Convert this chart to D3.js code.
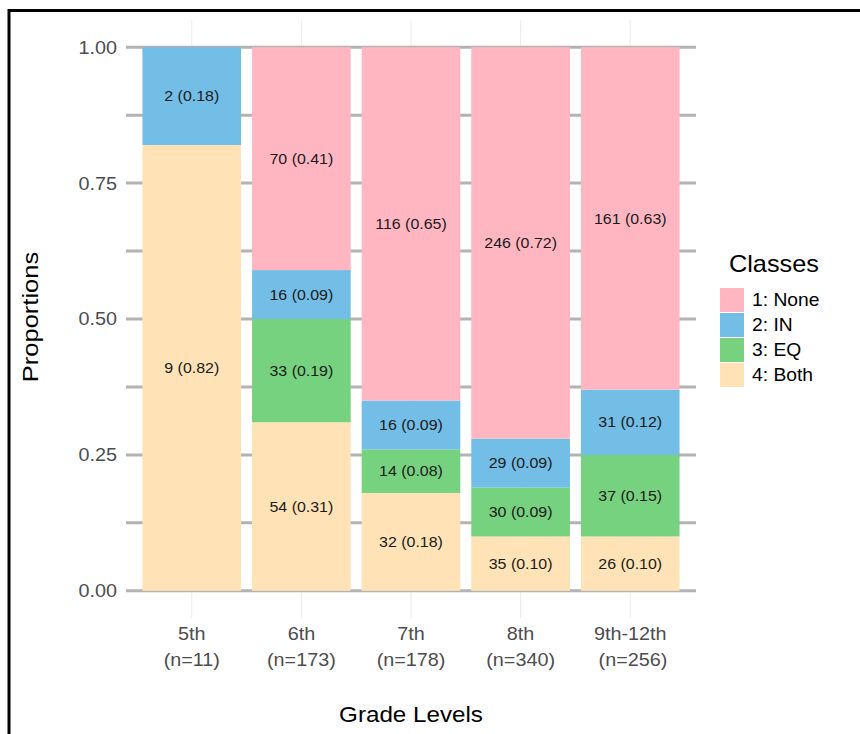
<!DOCTYPE html>
<html>
<head>
<meta charset="utf-8">
<script src="https://cdn.jsdelivr.net/npm/d3@7"></script>
<style>
  body { margin: 0; background: #fff; }
  svg { display: block; font-family: "Liberation Sans", Arial, sans-serif; }
</style>
</head>
<body>
<div id="chart"></div>
<script>
// data
const grades = ["5th", "6th", "7th", "8th", "9th-12th"];
const nLabels = ["(n=11)", "(n=173)", "(n=178)", "(n=340)", " (n=256)"];
const classes = ["1: None", "2: IN", "3: EQ", "4: Both"];
const noneCounts = [0, 70, 116, 246, 161];
const inCounts = [2, 16, 16, 29, 31];
const eqCounts = [0, 33, 14, 30, 37];
const bothCounts = [9, 54, 32, 35, 26];
const noneProps = [0, 0.41, 0.65, 0.72, 0.63];
const inProps = [0.18, 0.09, 0.09, 0.09, 0.12];
const eqProps = [0, 0.19, 0.08, 0.09, 0.15];
const bothProps = [0.82, 0.31, 0.18, 0.10, 0.10];
const yTicks = [0, 0.25, 0.5, 0.75, 1];
const yMinor = [0.125, 0.375, 0.625, 0.875];

const colors = ["#ffb6c1", "#72bee6", "#77d27f", "#ffe3b6"];
const sx = 1.1; // text looks wider than Arial in the original

const width = 860, height = 734;
const svg = d3.select("#chart").append("svg")
    .attr("width", width)
    .attr("height", height);

// outer frame
svg.append("path")
    .attr("d", "M9,740 L9,10.5 L870,10.5")
    .attr("fill", "none")
    .attr("stroke", "#000")
    .attr("stroke-width", 3);

// scales
const x = d3.scaleBand()
    .domain(grades)
    .range([126, 696])
    .paddingInner(0)
    .paddingOuter(0.1);
const barW = x.bandwidth() * 0.9;
const cx = d => x(d) + x.bandwidth() / 2;

const y = d3.scaleLinear()
    .domain([-0.05, 1.05])
    .range([618, 20]);

// build stacked rows
const rows = grades.map((g, i) => {
    const counts = [noneCounts[i], inCounts[i], eqCounts[i], bothCounts[i]];
    const props = [noneProps[i], inProps[i], eqProps[i], bothProps[i]];
    const r = { grade: g };
    classes.forEach((c, j) => { r[c] = props[j]; r[c + "_n"] = counts[j]; });
    return r;
});

// "4: Both" at the bottom
const series = d3.stack().keys(classes.slice().reverse())(rows);

// gridlines
const grid = svg.append("g");
grid.selectAll("line.vx")
    .data(grades)
    .join("line")
    .attr("x1", cx).attr("x2", cx)
    .attr("y1", 20).attr("y2", 618)
    .attr("stroke", "#ebebeb")
    .attr("stroke-width", 1);
grid.selectAll("line.hy")
    .data(yTicks.concat(yMinor))
    .join("line")
    .attr("x1", 126).attr("x2", 696)
    .attr("y1", d => y(d)).attr("y2", d => y(d))
    .attr("stroke", "#b3b3b3")
    .attr("stroke-width", 3);

// bars
const colorOf = d3.scaleOrdinal().domain(classes).range(colors);
svg.append("g").selectAll("g")
    .data(series)
    .join("g")
    .attr("fill", d => colorOf(d.key))
  .selectAll("rect")
    .data(d => d)
    .join("rect")
    .attr("x", d => cx(d.data.grade) - barW / 2)
    .attr("width", barW)
    .attr("y", d => y(d[1]))
    .attr("height", d => y(d[0]) - y(d[1]));

// helper: put text at a point, stretched a bit
function at(px, py, rot) {
    return `translate(${px},${py})` + (rot ? ` rotate(${rot})` : "") + ` scale(${sx},1)`;
}

// segment labels
const labels = svg.append("g");
series.forEach(s => {
    s.forEach(d => {
        const n = d.data[s.key + "_n"];
        if (!n) return;
        labels.append("text")
            .attr("transform", at(cx(d.data.grade), y((d[0] + d[1]) / 2)))
            .attr("dy", "0.35em")
            .attr("text-anchor", "middle")
            .attr("font-size", 14.5)
            .attr("fill", "#1a1a1a")
            .text(n + " (" + d3.format(".2f")(d.data[s.key]) + ")");
    });
});

// y axis labels
svg.append("g").selectAll("text")
    .data(yTicks)
    .join("text")
    .attr("transform", d => at(117, y(d)))
    .attr("dy", "0.36em")
    .attr("text-anchor", "end")
    .attr("font-size", 18)
    .attr("fill", "#4d4d4d")
    .text(d => d3.format(".2f")(d));

// x axis labels
const xl = svg.append("g").selectAll("text")
    .data(grades)
    .join("text")
    .attr("transform", d => at(cx(d), 640))
    .attr("text-anchor", "middle")
    .attr("font-size", 18)
    .attr("fill", "#4d4d4d");
xl.append("tspan").attr("x", 0).text(d => d);
xl.append("tspan")
    .attr("x", 0)
    .attr("dy", 26)
    .style("white-space", "pre")
    .text((d, i) => nLabels[i]);

// axis titles
svg.append("text")
    .attr("transform", at(411, 722))
    .attr("text-anchor", "middle")
    .attr("font-size", 22)
    .attr("fill", "#000")
    .text("Grade Levels");

svg.append("text")
    .attr("transform", `translate(38,317) rotate(-90) scale(1.16,1)`)
    .attr("text-anchor", "middle")
    .attr("font-size", 22)
    .attr("fill", "#000")
    .text("Proportions");

// legend
const legend = svg.append("g");
legend.append("text")
    .attr("transform", at(729, 272))
    .attr("font-size", 23)
    .attr("fill", "#000")
    .text("Classes");
const items = legend.selectAll("g.item")
    .data(classes)
    .join("g")
    .attr("transform", (d, i) => `translate(720,${288 + i * 25})`);
items.append("rect")
    .attr("width", 24).attr("height", 24)
    .attr("fill", d => colorOf(d));
items.append("text")
    .attr("transform", at(32, 12))
    .attr("dy", "0.36em")
    .attr("font-size", 17.5)
    .attr("fill", "#000")
    .text(d => d);
</script>
</body>
</html>
